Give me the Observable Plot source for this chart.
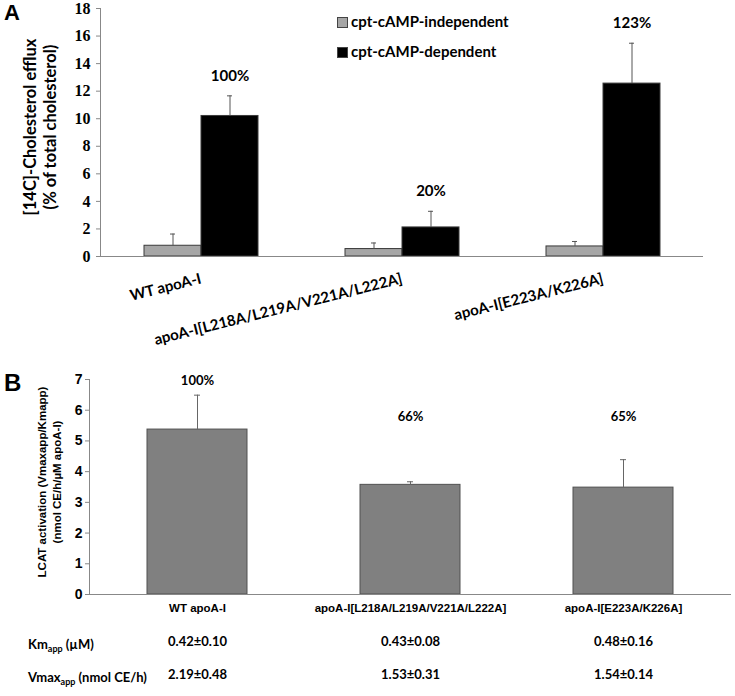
<!DOCTYPE html>
<html><head><meta charset="utf-8">
<script src="https://cdn.jsdelivr.net/npm/d3@7"></script>
<script src="https://cdn.jsdelivr.net/npm/@observablehq/plot@0.6"></script>
<style>
body{margin:0;background:#fff;}
#root{position:relative;width:735px;height:696px;overflow:hidden;font-family:Lato,"Open Sans",sans-serif;color:#000;}
.abs{position:absolute;white-space:nowrap;}
.rot{position:absolute;white-space:nowrap;text-align:center;transform:translate(-50%,-50%) rotate(-90deg);}
.sw{position:absolute;width:9px;height:9px;border:1px solid #444;}
.plot{position:absolute;left:0;}
</style></head><body><div id="root"></div>
<script>
// ---------- Panel A data ----------
const groupsA = ["WT apoA-I", "apoA-I[L218A/L219A/V221A/L222A]", "apoA-I[E223A/K226A]"];
const seriesA = ["cpt-cAMP-independent", "cpt-cAMP-dependent"];
const independentVal = [0.78, 0.54, 0.73];
const independentErr = [0.85, 0.44, 0.36];
const dependentVal = [10.2, 2.11, 12.55];
const dependentErr = [1.46, 1.17, 2.93];
const pctA = ["100%", "20%", "123%"];
const yTicksA = [0, 2, 4, 6, 8, 10, 12, 14, 16, 18];

// ---------- Panel B data ----------
const groupsB = ["WT apoA-I", "apoA-I[L218A/L219A/V221A/L222A]", "apoA-I[E223A/K226A]"];
const lcatVal = [5.37, 3.57, 3.48];
const lcatErr = [1.12, 0.10, 0.91];
const pctB = ["100%", "66%", "65%"];
const yTicksB = [0, 1, 2, 3, 4, 5, 6, 7];
const kmRow = ["0.42±0.10", "0.43±0.08", "0.48±0.16"];
const vmaxRow = ["2.19±0.48", "1.53±0.31", "1.54±0.14"];

const root = document.getElementById("root");

// ---------- Panel A ----------
const rowsA = groupsA.flatMap((g, i) => [
  {g, s: seriesA[0], v: independentVal[i], e: independentErr[i]},
  {g, s: seriesA[1], v: dependentVal[i], e: dependentErr[i], pct: pctA[i]}
]);
const plotA = Plot.plot({
  width: 735, height: 360,
  marginLeft: 100, marginRight: 32, marginTop: 8, marginBottom: 104,
  style: {background: "transparent", fontFamily: "Lato, sans-serif", color: "#000"},
  fx: {domain: groupsA, padding: 0},
  x: {domain: seriesA, paddingInner: 0, paddingOuter: 0.75, axis: null},
  y: {domain: [0, 18]},
  color: {domain: seriesA, range: ["#a6a6a6", "#000000"]},
  marks: [
    Plot.barY(rowsA, {fx: "g", x: "s", y: "v", fill: "s", stroke: "#3a3a3a", strokeWidth: 1}),
    Plot.ruleX(rowsA, {fx: "g", x: "s", y1: "v", y2: d => d.v + d.e, stroke: "#555"}),
    Plot.tickY(rowsA, {fx: "g", x: "s", y: d => d.v + d.e, stroke: "#555", inset: 26}),
    Plot.ruleY([0], {stroke: "#888"}),
    Plot.frame({anchor: "left", facetAnchor: "left", stroke: "#888"}),
    Plot.text(rowsA.filter(d => d.pct), {fx: "g", x: "s", y: d => d.v + d.e, text: "pct", dy: -20,
      fontSize: 15, fontWeight: "bold", fontFamily: "Lato, sans-serif"}),
    Plot.axisY({ticks: yTicksA, tickSize: 4, tickPadding: 6, label: null, stroke: "#888",
      fontFamily: "Liberation Serif, serif", fontSize: 16, fontWeight: "bold", color: "#000"}),
    Plot.axisFx({anchor: "bottom", label: null, tickSize: 0, tickPadding: 22, tickRotate: -14, textAnchor: "end",
      fontFamily: "Lato, sans-serif", fontSize: 15, fontWeight: "bold"})
  ]
});
plotA.classList.add("plot");
plotA.style.top = "0px";
root.appendChild(plotA);

// ---------- Panel B ----------
const rowsB = groupsB.map((g, i) => ({g, v: lcatVal[i], e: lcatErr[i], pct: pctB[i], km: kmRow[i], vmax: vmaxRow[i]}));
const pctYB = [6.97, 5.77, 5.77];
const plotB = Plot.plot({
  width: 735, height: 336,
  marginLeft: 89, marginRight: 4, marginTop: 19, marginBottom: 102,
  style: {background: "transparent", fontFamily: "Liberation Sans, Arial, sans-serif", color: "#000"},
  x: {domain: groupsB, paddingInner: 0.53, paddingOuter: 0.27},
  y: {domain: [0, 7]},
  marks: [
    Plot.barY(rowsB, {x: "g", y: "v", fill: "#808080", stroke: "#505050", strokeWidth: 1}),
    Plot.ruleX(rowsB, {x: "g", y1: "v", y2: d => d.v + d.e, stroke: "#666"}),
    Plot.tickY(rowsB, {x: "g", y: d => d.v + d.e, stroke: "#666", inset: 47}),
    Plot.ruleY([0], {stroke: "#888"}),
    Plot.frame({anchor: "left", stroke: "#888"}),
    Plot.text(rowsB, {x: "g", y: (d, i) => pctYB[i], text: "pct", fontSize: 13, fontWeight: "bold",
      fontFamily: "Lato, sans-serif"}),
    Plot.text(rowsB, {x: "g", frameAnchor: "bottom", dy: 51, text: "km", fontSize: 13, fontWeight: "bold",
      fontFamily: "Lato, sans-serif"}),
    Plot.text(rowsB, {x: "g", frameAnchor: "bottom", dy: 84, text: "vmax", fontSize: 13, fontWeight: "bold",
      fontFamily: "Lato, sans-serif"}),
    Plot.axisY({ticks: yTicksB, tickFormat: d3.format("d"), tickSize: 4, tickPadding: 3, label: null, stroke: "#888",
      fontFamily: "Liberation Sans, Arial, sans-serif", fontSize: 14, fontWeight: "bold", color: "#000"}),
    Plot.axisX({label: null, tickSize: 0, tickPadding: 9,
      fontFamily: "Liberation Sans, Arial, sans-serif", fontSize: 11.5, fontWeight: "bold"})
  ]
});
plotB.classList.add("plot");
plotB.style.top = "360px";
root.appendChild(plotB);

// ---------- Annotations (HTML) ----------
function add(html, css, cls = "abs") {
  const d = document.createElement("div");
  d.className = cls;
  d.innerHTML = html;
  Object.assign(d.style, css);
  root.appendChild(d);
  return d;
}
add("A", {left: "4px", top: "0px", font: "bold 22px 'Liberation Sans', Arial, sans-serif", lineHeight: "26px"});
add("B", {left: "4px", top: "371px", font: "bold 24px 'Liberation Sans', Arial, sans-serif", lineHeight: "24px"});
add("[14C]-Cholesterol efflux<br>(% of total cholesterol)",
  {left: "40px", top: "127px", font: "bold 16.5px Lato, sans-serif", lineHeight: "20px"}, "rot");
add("LCAT activation (Vmaxapp/Kmapp)<br>(nmol CE/h/&micro;M apoA-I)",
  {left: "50px", top: "482px", font: "bold 11.5px 'Liberation Sans', Arial, sans-serif", lineHeight: "15px"}, "rot");
// legend
const lg = [[seriesA[0], "#a6a6a6", 17], [seriesA[1], "#000000", 47]];
lg.forEach(([t, c, y]) => {
  add("", {left: "337px", top: y + "px", background: c}, "sw");
  add(t, {left: "351px", top: (y - 5) + "px", font: "bold 15px Lato, sans-serif"});
});
// table row labels
add("Km<sub style='font-size:9px;vertical-align:-3px'>app</sub> (&micro;M)", {left: "28px", top: "636px", font: "bold 13px Lato, sans-serif"});
add("Vmax<sub style='font-size:9px;vertical-align:-3px'>app</sub> (nmol CE/h)", {left: "28px", top: "669px", font: "bold 13px Lato, sans-serif"});
</script></body></html>
